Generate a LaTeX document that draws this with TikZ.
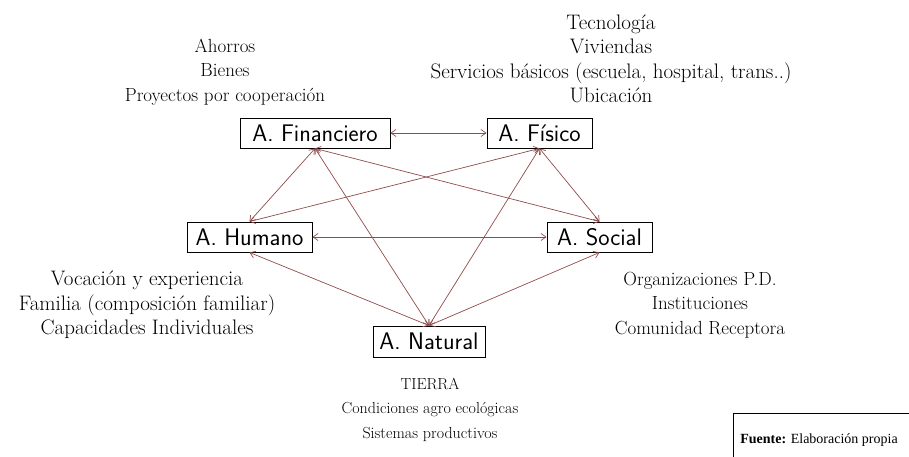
\documentclass[tikz,border=0pt]{standalone}
\usepackage{fontspec}
\newfontfamily\srcfont{Liberation Serif}
\usetikzlibrary{arrows.meta}
\definecolor{arrowred}{RGB}{145,75,75}
\tikzset{
  capbox/.style={draw=black, line width=0.9pt, font=\sffamily\fontsize{24}{26}\selectfont, inner sep=0pt, minimum height=30pt, anchor=center},
  note/.style={align=center, font=\rmfamily\fontsize{#1}{24.5}\selectfont, inner sep=0pt},
  note/.default=20,
  link/.style={draw=arrowred, line width=0.7pt, {Straight Barb[length=5pt,width=7pt]}-{Straight Barb[length=5pt,width=7pt]}}
}
\begin{document}
\begin{tikzpicture}[x=1pt,y=-1pt]
\useasboundingbox (0,0) rectangle (909,457);
% boxes
\node[capbox, minimum width=150pt] (fin) at (315,133) {A. Financiero};
\node[capbox, minimum width=105pt] (fis) at (539.5,133) {A. Físico};
\node[capbox, minimum width=125pt] (hum) at (249.5,237) {A. Humano};
\node[capbox, minimum width=105pt] (soc) at (599.5,237) {A. Social};
\node[capbox, minimum width=112pt, minimum height=31pt] (nat) at (429,341.5) {A. Natural};
% connectors
\draw[link] (fin.east) -- (fis.west);
\draw[link] (hum.east) -- (soc.west);
\draw[link] (fin.south) -- (hum.north);
\draw[link] (fin.south) -- (soc.north);
\draw[link] (fin.south) -- (nat.north);
\draw[link] (fis.south) -- (hum.north);
\draw[link] (fis.south) -- (soc.north);
\draw[link] (fis.south) -- (nat.north);
\draw[link] (hum.south) -- (nat.north);
\draw[link] (soc.south) -- (nat.north);
% annotations
\node[note=19] (tl) at (225,72) {Ahorros\\Bienes\\Proyectos por cooperación};
\node[note=21] (tr) at (611,59) {Tecnología\\Viviendas\\Servicios básicos (escuela, hospital, trans..)\\Ubicación};
\node[note=21] (bl) at (147,305) {Vocación y experiencia\\Familia (composición familiar)\\Capacidades Individuales};
\node[note=19] (br) at (700,305) {Organizaciones P.D.\\Instituciones\\Comunidad Receptora};
\node[note=16] (tierra) at (430,384) {TIERRA};
\node[note=16] (bot) at (430,422) {Condiciones agro ecológicas\\Sistemas productivos};
% source box
\draw[black, line width=0.9pt] (912,413) -- (733,413) -- (733,460);
\node[font=\srcfont\fontsize{14}{16}\selectfont, inner sep=0pt] (src) at (819,440) {\textbf{Fuente:} Elaboración propia};
\end{tikzpicture}
\end{document}
